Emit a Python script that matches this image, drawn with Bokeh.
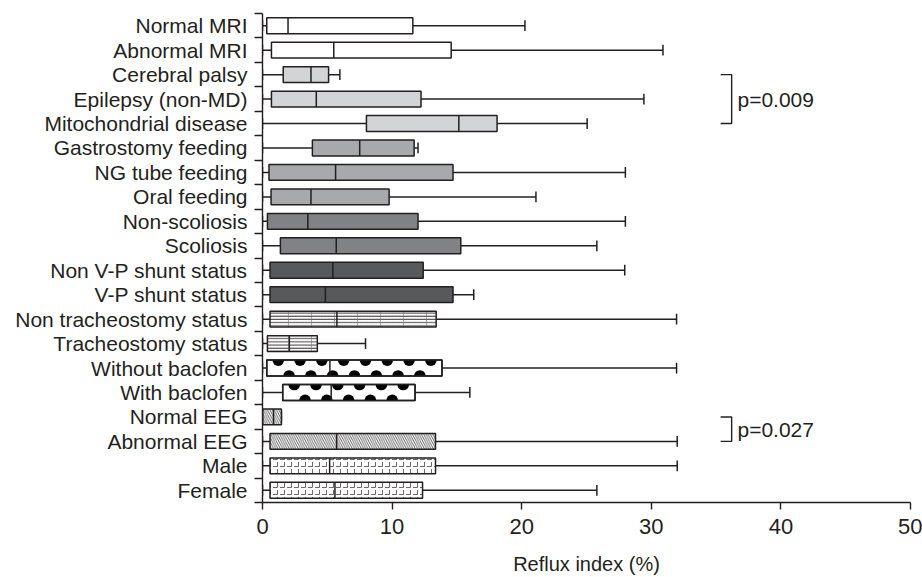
import math
from bokeh.plotting import figure
from bokeh.models import Range1d, FixedTicker, ColumnDataSource, Label
from bokeh.embed import file_html
from bokeh.resources import INLINE

# ---------------- data ----------------
categories = ["Normal MRI", "Abnormal MRI", "Cerebral palsy", "Epilepsy (non-MD)",
              "Mitochondrial disease", "Gastrostomy feeding", "NG tube feeding",
              "Oral feeding", "Non-scoliosis", "Scoliosis", "Non V-P shunt status",
              "V-P shunt status", "Non tracheostomy status", "Tracheostomy status",
              "Without baclofen", "With baclofen", "Normal EEG", "Abnormal EEG",
              "Male", "Female"]
mins = [0, 0, 0, 0, 0, 0, 0, 0, 0, 0, 0, 0, 0, 0, 0, 0, 0.02, 0, 0, 0]
q1 = [0.33, 0.69, 1.6, 0.69, 8.02, 3.85, 0.5, 0.66, 0.38, 1.38,
      0.58, 0.58, 0.58, 0.38, 0.33, 1.56, 0.02, 0.58, 0.58, 0.58]
medians = [1.97, 5.5, 3.74, 4.15, 15.15, 7.5, 5.64, 3.74, 3.5, 5.69,
           5.43, 4.85, 5.74, 2.07, 5.2, 5.3, 0.85, 5.72, 5.18, 5.59]
q3 = [11.6, 14.56, 5.1, 12.23, 18.1, 11.7, 14.7, 9.77, 12.0, 15.3,
      12.4, 14.7, 13.4, 4.23, 13.85, 11.77, 1.46, 13.35, 13.35, 12.35]
maxs = [20.25, 30.9, 5.97, 29.43, 25.05, 12.0, 28.0, 21.1, 28.0, 25.8,
        27.95, 16.3, 31.95, 7.95, 31.95, 16.0, 1.46, 32.0, 32.0, 25.8]
groups = ["white", "white", "light", "light", "light", "mid", "mid", "mid",
          "dark", "dark", "darker", "darker", "hlines", "hlines", "dots", "dots",
          "diag", "diag", "weave", "weave"]
x_ticks = [0, 10, 20, 30, 40, 50]
x_title = "Reflux index (%)"
comparisons = [("Cerebral palsy", "Mitochondrial disease", "p=0.009"),
               ("Normal EEG", "Abnormal EEG", "p=0.027")]

# ---------------- layout / styling ----------------
W, H = 922, 577
B_LEFT, B_RIGHT, B_TOP, B_BOTTOM = 262, 12, 13, 72
X_MAX = 50
PPU = (W - B_LEFT - B_RIGHT) / X_MAX          # pixels per x unit

INK = "#231f20"
FONT = "Liberation Sans"
styles = {
    "white":  [dict(fill_color="white")],
    "light":  [dict(fill_color="#d3d4d6")],
    "mid":    [dict(fill_color="#a7a9ac")],
    "dark":   [dict(fill_color="#808285")],
    "darker": [dict(fill_color="#58595b")],
    "hlines": [dict(fill_color="white", hatch_pattern="horizontal_line", hatch_scale=3.2,
                    hatch_weight=0.9, hatch_color=INK),
               dict(fill_alpha=0, hatch_pattern="vertical_line", hatch_scale=23,
                    hatch_weight=0.6, hatch_color="#777777")],
    "dots":   [dict(fill_color="white")],
    "diag":   [dict(fill_color="white", hatch_pattern="left_diagonal_line", hatch_scale=4.5,
                    hatch_weight=0.9, hatch_color="#555555")],
    "weave":  [dict(fill_color="white", hatch_pattern="horizontal_dash", hatch_scale=7,
                    hatch_weight=0.8, hatch_color="#444444"),
               dict(fill_alpha=0, hatch_pattern="vertical_dash", hatch_scale=7,
                    hatch_weight=0.8, hatch_color="#444444")],
}

n = len(categories)
ys = [n - 0.5 - i for i in range(n)]
BOX_H = 0.65
CAP_H = 0.44

p = figure(width=W, height=H, x_range=Range1d(0, X_MAX), y_range=Range1d(0, n),
           output_backend="svg", toolbar_location=None,
           min_border_left=B_LEFT, min_border_right=B_RIGHT,
           min_border_top=B_TOP, min_border_bottom=B_BOTTOM)
p.outline_line_color = None
p.xgrid.visible = False
p.ygrid.visible = False
p.background_fill_color = "white"

# x axis
xa = p.xaxis[0]
xa.ticker = FixedTicker(ticks=x_ticks, minor_ticks=[])
xa.axis_label = x_title
xa.axis_label_text_font = FONT
xa.axis_label_text_font_style = "normal"
xa.axis_label_text_font_size = "20px"
xa.axis_label_text_color = INK
xa.axis_label_standoff = 16
xa.major_label_text_font = FONT
xa.major_label_text_font_size = "22px"
xa.major_label_text_color = INK
xa.major_label_standoff = 9
xa.major_tick_in = 0
xa.major_tick_out = 7
xa.axis_line_color = INK
xa.axis_line_width = 1.4
xa.major_tick_line_color = INK
xa.major_tick_line_width = 1.4

# y axis: labels at row centres, ticks at row boundaries
ya = p.yaxis[0]
ya.ticker = FixedTicker(ticks=ys, minor_ticks=list(range(0, n + 1)))
ya.major_label_overrides = {y: c for y, c in zip(ys, categories)}
ya.major_label_text_font = FONT
ya.major_label_text_font_size = "21px"
ya.major_label_text_color = INK
ya.major_label_standoff = 7
ya.major_tick_in = 0
ya.major_tick_out = 8
ya.major_tick_line_color = None
ya.minor_tick_in = 0
ya.minor_tick_out = 8
ya.minor_tick_line_color = INK
ya.minor_tick_line_width = 1.4
ya.axis_line_color = INK
ya.axis_line_width = 1.4

# whiskers
src = ColumnDataSource(dict(y=ys, lo=mins, q1=q1, med=medians, q3=q3, hi=maxs,
                            ylo=[y - CAP_H / 2 for y in ys], yhi=[y + CAP_H / 2 for y in ys],
                            blo=[y - BOX_H / 2 for y in ys], bhi=[y + BOX_H / 2 for y in ys]))
p.segment(x0="lo", y0="y", x1="q1", y1="y", source=src, line_color=INK, line_width=1.5)
p.segment(x0="q3", y0="y", x1="hi", y1="y", source=src, line_color=INK, line_width=1.5)
p.segment(x0="hi", y0="ylo", x1="hi", y1="yhi", source=src, line_color=INK, line_width=1.5)
p.segment(x0="lo", y0="ylo", x1="lo", y1="yhi", source=src, line_color=INK, line_width=1.5)

# boxes
for g, layers in styles.items():
    idx = [i for i in range(n) if groups[i] == g]
    s = ColumnDataSource(dict(y=[ys[i] for i in idx], l=[q1[i] for i in idx],
                              r=[q3[i] for i in idx]))
    for k, st in enumerate(layers):
        p.hbar(y="y", left="l", right="r", height=BOX_H, source=s,
               line_color=INK if k == len(layers) - 1 else None, line_width=1.5, **st)

# large-dot fill pattern for the baclofen boxes (half dots along top and bottom edges)
PITCH, R, TOP_OFF, BOT_OFF = 21.8, 5.8, 11.5, 0.5   # pixels
tx, ty, bx, by = [], [], [], []
for i in range(n):
    if groups[i] != "dots":
        continue
    for off, xs_, ys_, yedge in ((TOP_OFF, tx, ty, ys[i] + BOX_H / 2),
                                 (BOT_OFF, bx, by, ys[i] - BOX_H / 2)):
        k = 0
        while True:
            xpix = off + k * PITCH
            k += 1
            if xpix < R * 0.6:
                continue
            if q1[i] + (xpix + R * 0.6) / PPU > q3[i]:
                break
            xs_.append(q1[i] + xpix / PPU)
            ys_.append(yedge)
p.wedge(x=tx, y=ty, radius=R, radius_units="screen", start_angle=math.pi,
        end_angle=2 * math.pi, fill_color="black", line_color=None)
p.wedge(x=bx, y=by, radius=R, radius_units="screen", start_angle=0,
        end_angle=math.pi, fill_color="black", line_color=None)
di = [i for i in range(n) if groups[i] == "dots"]
p.hbar(y=[ys[i] for i in di], left=[q1[i] for i in di], right=[q3[i] for i in di],
       height=BOX_H, fill_alpha=0, line_color=INK, line_width=1.5)

# medians
p.segment(x0="med", y0="blo", x1="med", y1="bhi", source=src, line_color=INK, line_width=1.5)

# significance brackets
BR_X, BR_L, TXT_X = 36.2, 35.35, 36.65
for a, b, txt in comparisons:
    ya_, yb_ = ys[categories.index(a)], ys[categories.index(b)]
    p.line(x=[BR_L, BR_X, BR_X, BR_L], y=[ya_, ya_, yb_, yb_], line_color=INK, line_width=1.4)
    p.add_layout(Label(x=TXT_X, y=(ya_ + yb_) / 2, text=txt, text_font=FONT,
                       text_font_size="21px", text_color=INK, text_baseline="middle"))

open("out.html", "w").write(file_html(p, INLINE))
